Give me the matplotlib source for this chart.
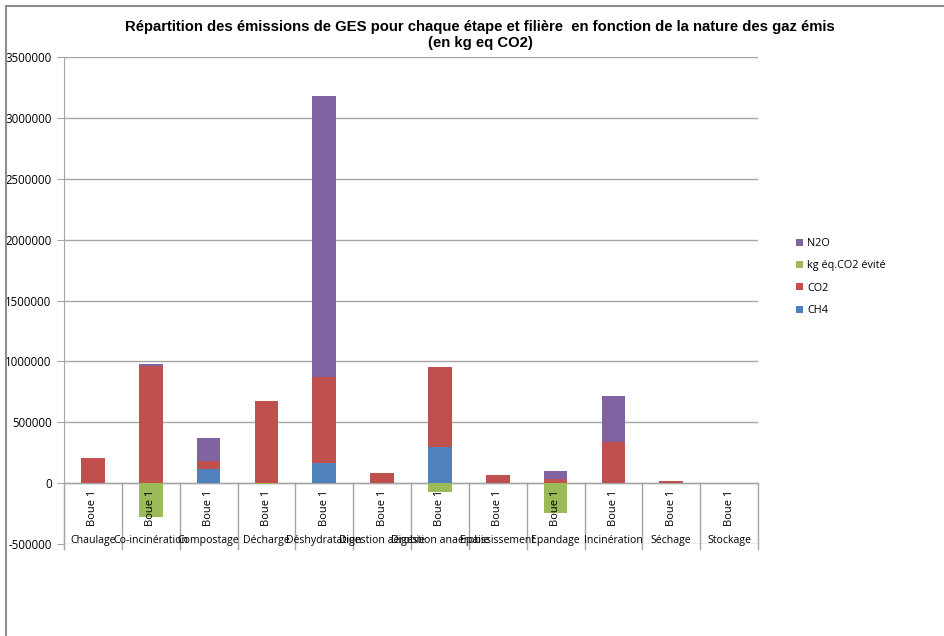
import matplotlib
matplotlib.use('Agg')
import matplotlib.pyplot as plt
import matplotlib.patches as patches
import numpy as np

# emissions par filiere (kg eq CO2), une boue par filiere
filieres = ['Chaulage', 'Co-incinération', 'Compostage', 'Décharge',
            'Déshydratation', 'Digestion aérobie', 'Digestion anaérobie',
            'Epaississement', 'Epandage', 'Incinération', 'Séchage', 'Stockage']
boue = 'Boue 1'

ch4 = [0, 0, 115000, 0, 162000, 0, 298000, 0, 0, 0, 0, 0]
co2 = [205000, 960000, 65000, 671000, 708000, 85000, 655000, 68000, 30000, 340000, 15000, 0]
evite = [0, -280000, 0, -10000, 0, 0, -75000, 0, -246000, 0, 0, 0]
n2o = [0, 20000, 190000, 0, 2310000, 0, 0, 0, 68000, 375000, 0, 0]

yticks = np.arange(-500000, 3500001, 500000)

c_ch4 = '#4F81BD'
c_co2 = '#C0504D'
c_evite = '#9BBB59'
c_n2o = '#8064A2'
grid_col = '#a6a6a6'


def main():
    fig = plt.figure(figsize=(9.44, 6.36), dpi=100)
    ax = fig.add_axes([64 / 944, 1 - 544 / 636, 694 / 944, 487 / 636])

    x = np.arange(len(filieres))
    w = 0.41
    ch4_a = np.array(ch4)
    co2_a = np.array(co2)
    ax.bar(x, ch4_a, w, color=c_ch4, label='CH4', zorder=3)
    ax.bar(x, co2_a, w, bottom=ch4_a, color=c_co2, label='CO2', zorder=3)
    ax.bar(x, evite, w, color=c_evite, label='kg éq.CO2 évité', zorder=3)
    ax.bar(x, n2o, w, bottom=ch4_a + co2_a, color=c_n2o, label='N2O', zorder=3)

    ax.set_xlim(-0.5, len(filieres) - 0.5)
    ax.set_ylim(-500000, 3500000)
    ax.set_yticks(yticks)
    ax.set_yticklabels([str(v) for v in yticks], fontsize=8.3, family='Open Sans')
    ax.tick_params(axis='y', length=5, color=grid_col, pad=4)
    ax.tick_params(axis='x', length=0, labelbottom=False)
    ax.grid(axis='y', color=grid_col, lw=1, zorder=0)

    for s in ['top', 'right', 'bottom']:
        ax.spines[s].set_visible(False)
    ax.spines['left'].set_color(grid_col)
    ax.spines['left'].set_bounds(-540000, 3500000)
    ax.axhline(0, color=grid_col, lw=1, zorder=2)

    # multi-level category axis
    for b in np.arange(-0.5, len(filieres), 1.0):
        ax.plot([b, b], [0, -540000], color=grid_col, lw=1, clip_on=False, zorder=1)
    for i, name in enumerate(filieres):
        ax.text(i, -205000, boue, rotation=90, ha='center', va='center',
                fontsize=8, family='Open Sans', zorder=4)
        ax.text(i, -470000, name, ha='center', va='center',
                fontsize=7.6, family='Open Sans', zorder=4)

    fig.suptitle('Répartition des émissions de GES pour chaque étape et filière  en fonction de la nature des gaz émis\n(en kg eq CO2)',
                 x=480 / 944, y=1 - 20 / 636, fontsize=10.75, fontweight='bold',
                 family='Liberation Sans', linespacing=1.2)

    h, l = ax.get_legend_handles_labels()
    order = [3, 2, 1, 0]
    ax.legend([h[i] for i in order], [l[i] for i in order],
              loc='center left', bbox_to_anchor=(786 / 944, 1 - 277 / 636),
              bbox_transform=fig.transFigure, frameon=False,
              prop={'family': 'Open Sans', 'size': 7.8},
              handlelength=0.65, handleheight=0.65, handletextpad=0.4,
              labelspacing=1.05)

    # chart frame
    fig.patches.append(patches.Rectangle((6 / 944, -0.05), 1.1, 1 - 6 / 636 + 0.05,
                                         transform=fig.transFigure, fill=False,
                                         ec='#8c8c8c', lw=1.5))

    fig.savefig('out.png', dpi=100)


if __name__ == '__main__':
    main()
